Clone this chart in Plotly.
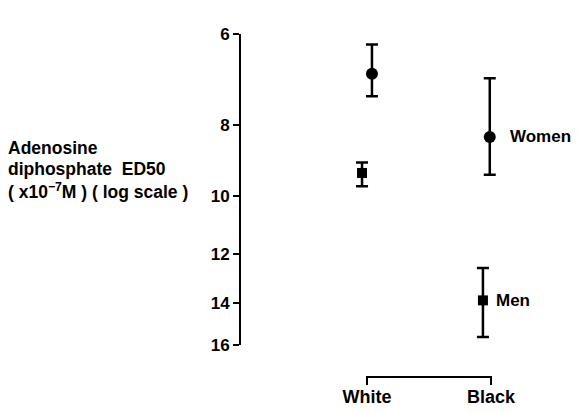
import math
import plotly.graph_objects as go

# ---- data ----
groups = ["White", "Black"]
women_ed50 = [6.8, 8.3]
women_upper = [7.3, 9.35]    # larger value = lower end on the inverted axis
women_lower = [6.2, 6.9]
men_ed50 = [9.3, 13.9]
men_upper = [9.7, 15.6]
men_lower = [9.0, 12.55]
y_ticks = [6, 8, 10, 12, 14, 16]
title_lines = ["Adenosine", "diphosphate  ED50", "( x10<sup>−7</sup>M ) ( log scale )"]

# small horizontal offsets so markers sit as in the original
women_offset = [0.04, -0.01]
men_offset = [-0.04, -0.065]

FONT = "Liberation Sans"
xs = list(range(len(groups)))

fig = go.Figure()


def add_series(vals, hi, lo, offs, symbol, size):
    fig.add_trace(go.Scatter(
        x=[x + o for x, o in zip(xs, offs)],
        y=vals,
        mode="markers",
        marker=dict(symbol=symbol, size=size, color="black"),
        error_y=dict(
            type="data", symmetric=False,
            array=[h - v for h, v in zip(hi, vals)],
            arrayminus=[v - l for v, l in zip(vals, lo)],
            color="black", thickness=2.5, width=6,
        ),
        showlegend=False,
        cliponaxis=False,
    ))


add_series(women_ed50, women_upper, women_lower, women_offset, "circle", 12)
add_series(men_ed50, men_upper, men_lower, men_offset, "square", 10)

# series labels next to the Black points
fig.add_annotation(x=xs[1] + women_offset[1], y=math.log10(women_ed50[1]),
                   text="<b>Women</b>", showarrow=False, xanchor="left", xshift=18,
                   font=dict(family=FONT, size=17, color="black"))
fig.add_annotation(x=xs[1] + men_offset[1], y=math.log10(men_ed50[1]),
                   text="<b>Men</b>", showarrow=False, xanchor="left", xshift=11,
                   font=dict(family=FONT, size=17, color="black"))

# bracket joining the two groups
fig.add_shape(type="path", xref="x", yref="paper",
              path=f"M {xs[0]},-0.129 L {xs[0]},-0.103 L {xs[1]},-0.103 L {xs[1]},-0.129",
              line=dict(color="black", width=2))

# y-axis title, one annotation per line for tight spacing
for line, yp in zip(title_lines, [0.634, 0.566, 0.494]):
    fig.add_annotation(xref="paper", yref="paper", x=-0.714, y=yp,
                       xanchor="left", yanchor="middle", align="left", showarrow=False,
                       text=f"<b>{line}</b>",
                       font=dict(family=FONT, size=17.5, color="black"))

fig.update_layout(
    width=581, height=412,
    margin=dict(l=233, r=19, t=26, b=75, autoexpand=False),
    paper_bgcolor="white", plot_bgcolor="white",
    font=dict(family=FONT, size=17, color="black"),
    xaxis=dict(range=[-1.016, 1.637], showgrid=False, zeroline=False, showline=False,
               tickvals=xs, ticktext=[f"<b>{g}</b>" for g in groups], ticks="",
               ticklabelstandoff=39, automargin=False,
               tickfont=dict(family=FONT, size=18, color="black")),
    yaxis=dict(type="log", range=[math.log10(16), math.log10(6)],
               tickvals=y_ticks, ticktext=[f"<b>{t}</b>" for t in y_ticks],
               showgrid=False, zeroline=False, showline=True, linecolor="black",
               linewidth=2, ticks="outside", ticklen=6, tickwidth=2, tickcolor="black",
               automargin=False,
               tickfont=dict(family=FONT, size=17, color="black")),
)

fig.write_html("out.html")
